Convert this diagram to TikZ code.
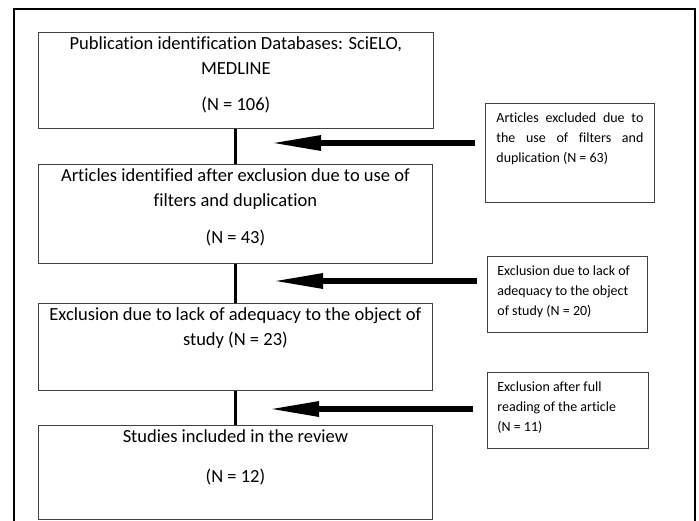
\documentclass[tikz,border=0pt]{standalone}
\usepackage{fontspec}
\setmainfont{Carlito}[Ligatures=NoCommon]
\usetikzlibrary{arrows.meta,calc}

\tikzset{
  flowbox/.style={draw=black!75, line width=0.8pt, inner sep=0pt, anchor=north west},
  sidebox/.style={draw=black!75, line width=0.8pt, inner ysep=0pt, anchor=north west,
    font=\fontsize{14}{20}\selectfont},
  stem/.style={line width=3pt},
  pointer/.style={line width=6pt, -{Triangle[length=51pt,width=14pt]}},
}

\newcommand{\boxtext}[3]{\parbox[t][#1][t]{#2}{\centering\fontsize{18.5}{25}\selectfont
  \vspace*{4.5pt}#3}}
\newcommand{\sidetext}[3]{\parbox[t][#1][t]{#2}{\vspace*{9pt}#3}}

\begin{document}
\begin{tikzpicture}[x=1pt, y=-1pt]
        \useasboundingbox (0,0) rectangle (699,520);
        \draw[line width=1.2pt] (14,526) -- (14,9) -- (695,9) -- (695,526);

        % main boxes
        \node[flowbox] (ident) at (38,32) {\boxtext{96pt}{395pt}{Publication identification Databases: SciELO,\\ MEDLINE\par\vspace{11pt}(N = 106)}};
        \node[flowbox] (after) at (38,164) {\boxtext{99pt}{394pt}{Articles identified after exclusion due to use of\\ filters and duplication\par\vspace{12pt}(N = 43)}};
        \node[flowbox] (adeq) at (38,303) {\boxtext{87pt}{394pt}{Exclusion due to lack of adequacy to the object of\\ study (N = 23)}};
        \node[flowbox] (incl) at (38,425) {\boxtext{94pt}{394pt}{Studies included in the review\par\vspace{15pt}(N = 12)}};

        % exclusion boxes
        \node[sidebox, inner xsep=11pt] (filt) at (485,103) {\sidetext{99pt}{147pt}{Articles excluded due to\linebreak the use of filters and\linebreak duplication (N = 63)}};
        \node[sidebox, inner xsep=10pt] (lack) at (487,256) {\sidetext{76pt}{140pt}{\raggedright Exclusion due to lack of\\ adequacy to the object\\ of study (N = 20)}};
        \node[sidebox, inner xsep=10pt] (full) at (487,372) {\sidetext{76pt}{141pt}{\raggedright Exclusion after full\\ reading of the article\\ (N = 11)}};

        % stems
        \draw[stem] (ident.south) -- (ident.south |- after.north);
        \draw[stem] (after.south) -- (after.south |- adeq.north);
        \draw[stem] (adeq.south) -- (adeq.south |- incl.north);

        % arrows
        \coordinate (tipA) at (270,143);
        \coordinate (tipB) at (272,281);
        \coordinate (tipC) at (268,409);
        \draw[pointer] ($(filt.west |- tipA)+(-10,0)$) -- (tipA);
        \draw[pointer] ($(lack.west |- tipB)+(-10,0)$) -- (tipB);
        \draw[pointer] ($(full.west |- tipC)+(-14,0)$) -- (tipC);
    \end{tikzpicture}
\end{document}
